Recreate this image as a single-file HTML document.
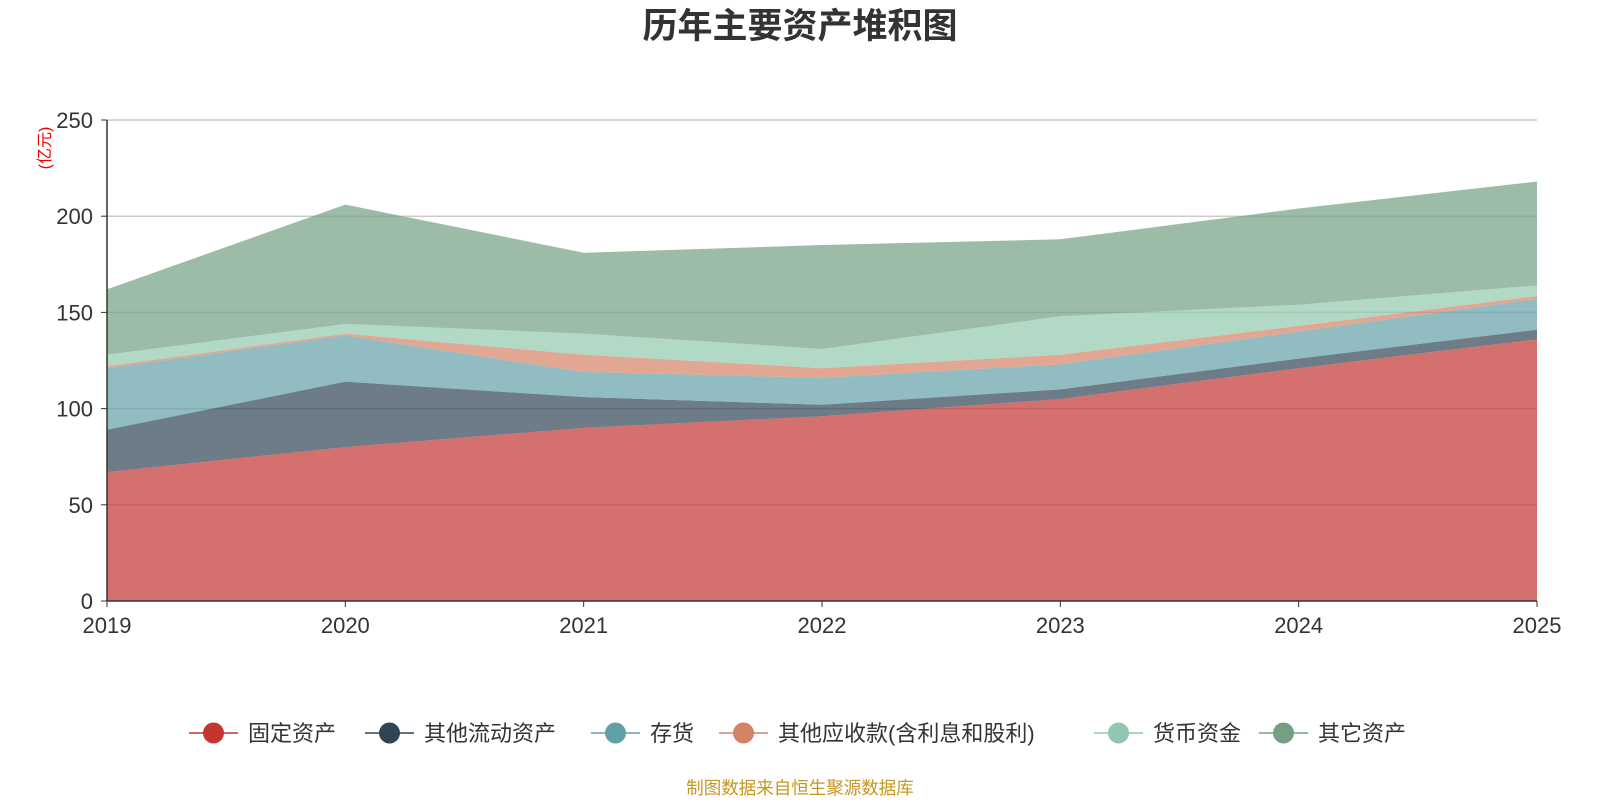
<!DOCTYPE html>
<html><head><meta charset="utf-8">
<style>
body{margin:0;background:#fff;width:1600px;height:800px;overflow:hidden;font-family:"Liberation Sans","Noto Sans CJK SC",sans-serif;}
</style></head>
<body>
<svg id="chart" width="1600" height="800" xmlns="http://www.w3.org/2000/svg" font-family="'Liberation Sans','Noto Sans CJK SC',sans-serif">
<text x="800" y="38" text-anchor="middle" font-size="35" font-weight="bold" fill="#333">历年主要资产堆积图</text>
<text transform="translate(50,148) rotate(-90)" text-anchor="middle" font-size="16" fill="#e00">(亿元)</text>
<g id="grid"></g><g id="areas"></g><g id="axes"></g><g id="legend"></g>
<text x="800" y="794" text-anchor="middle" font-size="17.5" fill="#c8961e">制图数据来自恒生聚源数据库</text>
</svg>
<script>
const years=["2019","2020","2021","2022","2023","2024","2025"];
const seriesNames=["固定资产","其他流动资产","存货","其他应收款(含利息和股利)","货币资金","其它资产"];
const fixedAssets=[67,80,90,96,105,121,136];
const otherCurrent=[22,34,16,6,5,5,5];
const inventory=[32,24,13,14,13,14,16];
const otherReceivable=[1,1,9,5,5,3,1.5];
const cash=[6,5,11,10,20,11,5.5];
const otherAssets=[34,62,42,54,40,50,54];
const yTicks=[0,50,100,150,200,250];
const colors=["#c23531","#2f4554","#61a0a8","#d48265","#91c7ae","#749f83"];
const x0=107,x1=1537,y0=601,y1=120,yMax=250;
const xs=i=>x0+(x1-x0)*i/(years.length-1);
const ys=v=>y0-(y0-y1)*v/yMax;
const NS="http://www.w3.org/2000/svg";
function mk(t,a,p){const e=document.createElementNS(NS,t);for(const k in a)e.setAttribute(k,a[k]);p.appendChild(e);return e;}
const grid=document.getElementById('grid'),areas=document.getElementById('areas'),axes=document.getElementById('axes'),legend=document.getElementById('legend');
yTicks.forEach(v=>{
 if(v>0){const l=mk('line',{x1:x0,x2:x1,y1:ys(v),y2:ys(v),stroke:'#ccc','stroke-width':1.5},grid);
 
 }
 const t=mk('text',{x:x0-14,y:ys(v)+8,'text-anchor':'end','font-size':22,fill:'#333'},axes);t.textContent=v;
 
 
 mk('line',{x1:x0-6,x2:x0,y1:ys(v),y2:ys(v),stroke:'#333'},axes);
});
const all=[fixedAssets,otherCurrent,inventory,otherReceivable,cash,otherAssets];
let base=years.map(()=>0);
all.forEach((s,k)=>{
 const top=base.map((b,i)=>b+s[i]);
 let d='M'+top.map((v,i)=>xs(i)+','+ys(v)).join('L');
 for(let i=years.length-1;i>=0;i--)d+='L'+xs(i)+','+ys(base[i]);
 const p=mk('path',{d:d+'Z',fill:colors[k],'fill-opacity':0.7,stroke:'none'},areas);
 
 
 base=top;
});
mk('line',{x1:x0,x2:x0,y1:y1,y2:y0,stroke:'#333','stroke-width':1.5},axes);
mk('line',{x1:x0,x2:x1,y1:y0,y2:y0,stroke:'#333','stroke-width':1.5},axes);
years.forEach((y,i)=>{
 mk('line',{x1:xs(i),x2:xs(i),y1:y0,y2:y0+6,stroke:'#333'},axes);
 const t=mk('text',{x:xs(i),y:y0+32,'text-anchor':'middle','font-size':22,fill:'#333'},axes);t.textContent=y;
 
 
});
const lx=[189,365,591,719,1094,1259];
seriesNames.forEach((n,k)=>{
 const g=mk('g',{},legend);
 
 
 mk('line',{x1:lx[k],x2:lx[k]+49,y1:733,y2:733,stroke:colors[k],'stroke-width':1.5},g);
 mk('circle',{cx:lx[k]+24.5,cy:733,r:10.5,fill:colors[k]},g);
 const t=mk('text',{x:lx[k]+59,y:741,'font-size':22,fill:'#333'},g);t.textContent=n;
});
</script>
</body></html>
